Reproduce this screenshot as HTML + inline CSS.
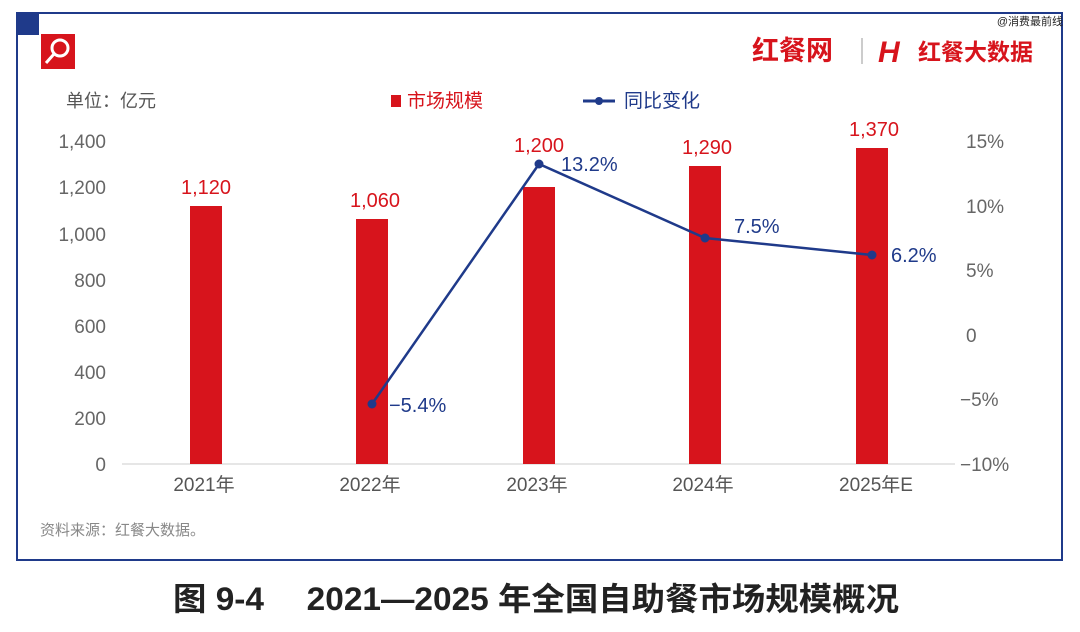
<!DOCTYPE html>
<html><head><meta charset="utf-8"><style>
body{margin:0;width:1080px;height:627px;background:#fff;overflow:hidden;font-family:"Liberation Sans","Noto Sans CJK SC",sans-serif;}
</style></head><body>
<svg width="1080" height="627" viewBox="0 0 1080 627" xmlns="http://www.w3.org/2000/svg" style="font-family:'Liberation Sans','Noto Sans CJK SC',sans-serif">
<rect x="17" y="13" width="1045" height="547" fill="none" stroke="#1f3a8a" stroke-width="2"/>
<rect x="17" y="13" width="22" height="22" fill="#1f3a8a"/>
<rect x="41" y="34" width="34" height="35" fill="#d7141c"/>
<circle cx="60" cy="48" r="8" fill="none" stroke="#fff" stroke-width="3"/>
<line x1="54" y1="54" x2="46" y2="63" stroke="#fff" stroke-width="3"/>
<text x="1063" y="25" font-size="11" text-anchor="end" fill="#222">@消费最前线</text>
<text x="752" y="60" font-size="27" font-weight="bold" fill="#d7141c">红餐网</text>
<line x1="862" y1="38" x2="862" y2="64" stroke="#bbb" stroke-width="1.5"/>
<text x="878" y="62" font-size="30" font-weight="bold" font-style="italic" fill="#d7141c">H</text>
<text x="918" y="60" font-size="23" font-weight="bold" fill="#d7141c">红餐大数据</text>
<text x="66" y="107" font-size="18" fill="#555">单位：亿元</text>
<rect x="391" y="95" width="10" height="12" fill="#d7141c"/>
<text x="407" y="107" font-size="19" fill="#d7141c">市场规模</text>
<line x1="583" y1="101" x2="615" y2="101" stroke="#1f3a8a" stroke-width="3"/>
<circle cx="599" cy="101" r="4" fill="#1f3a8a"/>
<text x="624" y="107" font-size="19" fill="#1f3a8a">同比变化</text>
<g font-size="19" fill="#666" text-anchor="end">
<text x="106" y="148">1,400</text><text x="106" y="194">1,200</text><text x="106" y="241">1,000</text>
<text x="106" y="287">800</text><text x="106" y="333">600</text><text x="106" y="379">400</text>
<text x="106" y="425">200</text><text x="106" y="471">0</text>
</g>
<g font-size="19" fill="#666">
<text x="966" y="148">15%</text><text x="966" y="213">10%</text><text x="966" y="277">5%</text>
<text x="966" y="342">0</text><text x="960" y="406">−5%</text><text x="960" y="471">−10%</text>
</g>
<line x1="122" y1="464" x2="955" y2="464" stroke="#ccc" stroke-width="1"/>
<g fill="#d7141c">
<rect x="190" y="206" width="32" height="258"/>
<rect x="356" y="219" width="32" height="245"/>
<rect x="523" y="187" width="32" height="277"/>
<rect x="689" y="166" width="32" height="298"/>
<rect x="856" y="148" width="32" height="316"/>
</g>
<g font-size="20" fill="#d7141c" text-anchor="middle">
<text x="206" y="194">1,120</text><text x="375" y="207">1,060</text><text x="539" y="152">1,200</text>
<text x="707" y="154">1,290</text><text x="874" y="136">1,370</text>
</g>
<polyline points="372,404 539,164 705,238 872,255" fill="none" stroke="#1f3a8a" stroke-width="2.5"/>
<g fill="#1f3a8a"><circle cx="372" cy="404" r="4.5"/><circle cx="539" cy="164" r="4.5"/><circle cx="705" cy="238" r="4.5"/><circle cx="872" cy="255" r="4.5"/></g>
<g font-size="20" fill="#1f3a8a">
<text x="389" y="412">−5.4%</text><text x="561" y="171">13.2%</text><text x="734" y="233">7.5%</text><text x="891" y="262">6.2%</text>
</g>
<g font-size="19" fill="#555" text-anchor="middle">
<text x="204" y="491">2021年</text><text x="370" y="491">2022年</text><text x="537" y="491">2023年</text>
<text x="703" y="491">2024年</text><text x="876" y="491">2025年E</text>
</g>
<text x="40" y="535" font-size="15" fill="#888">资料来源：红餐大数据。</text>
<text x="536" y="610" font-size="32" font-weight="bold" fill="#222" text-anchor="middle" textLength="726" lengthAdjust="spacingAndGlyphs">图 9-4　 2021—2025 年全国自助餐市场规模概况</text>
</svg>
</body></html>
